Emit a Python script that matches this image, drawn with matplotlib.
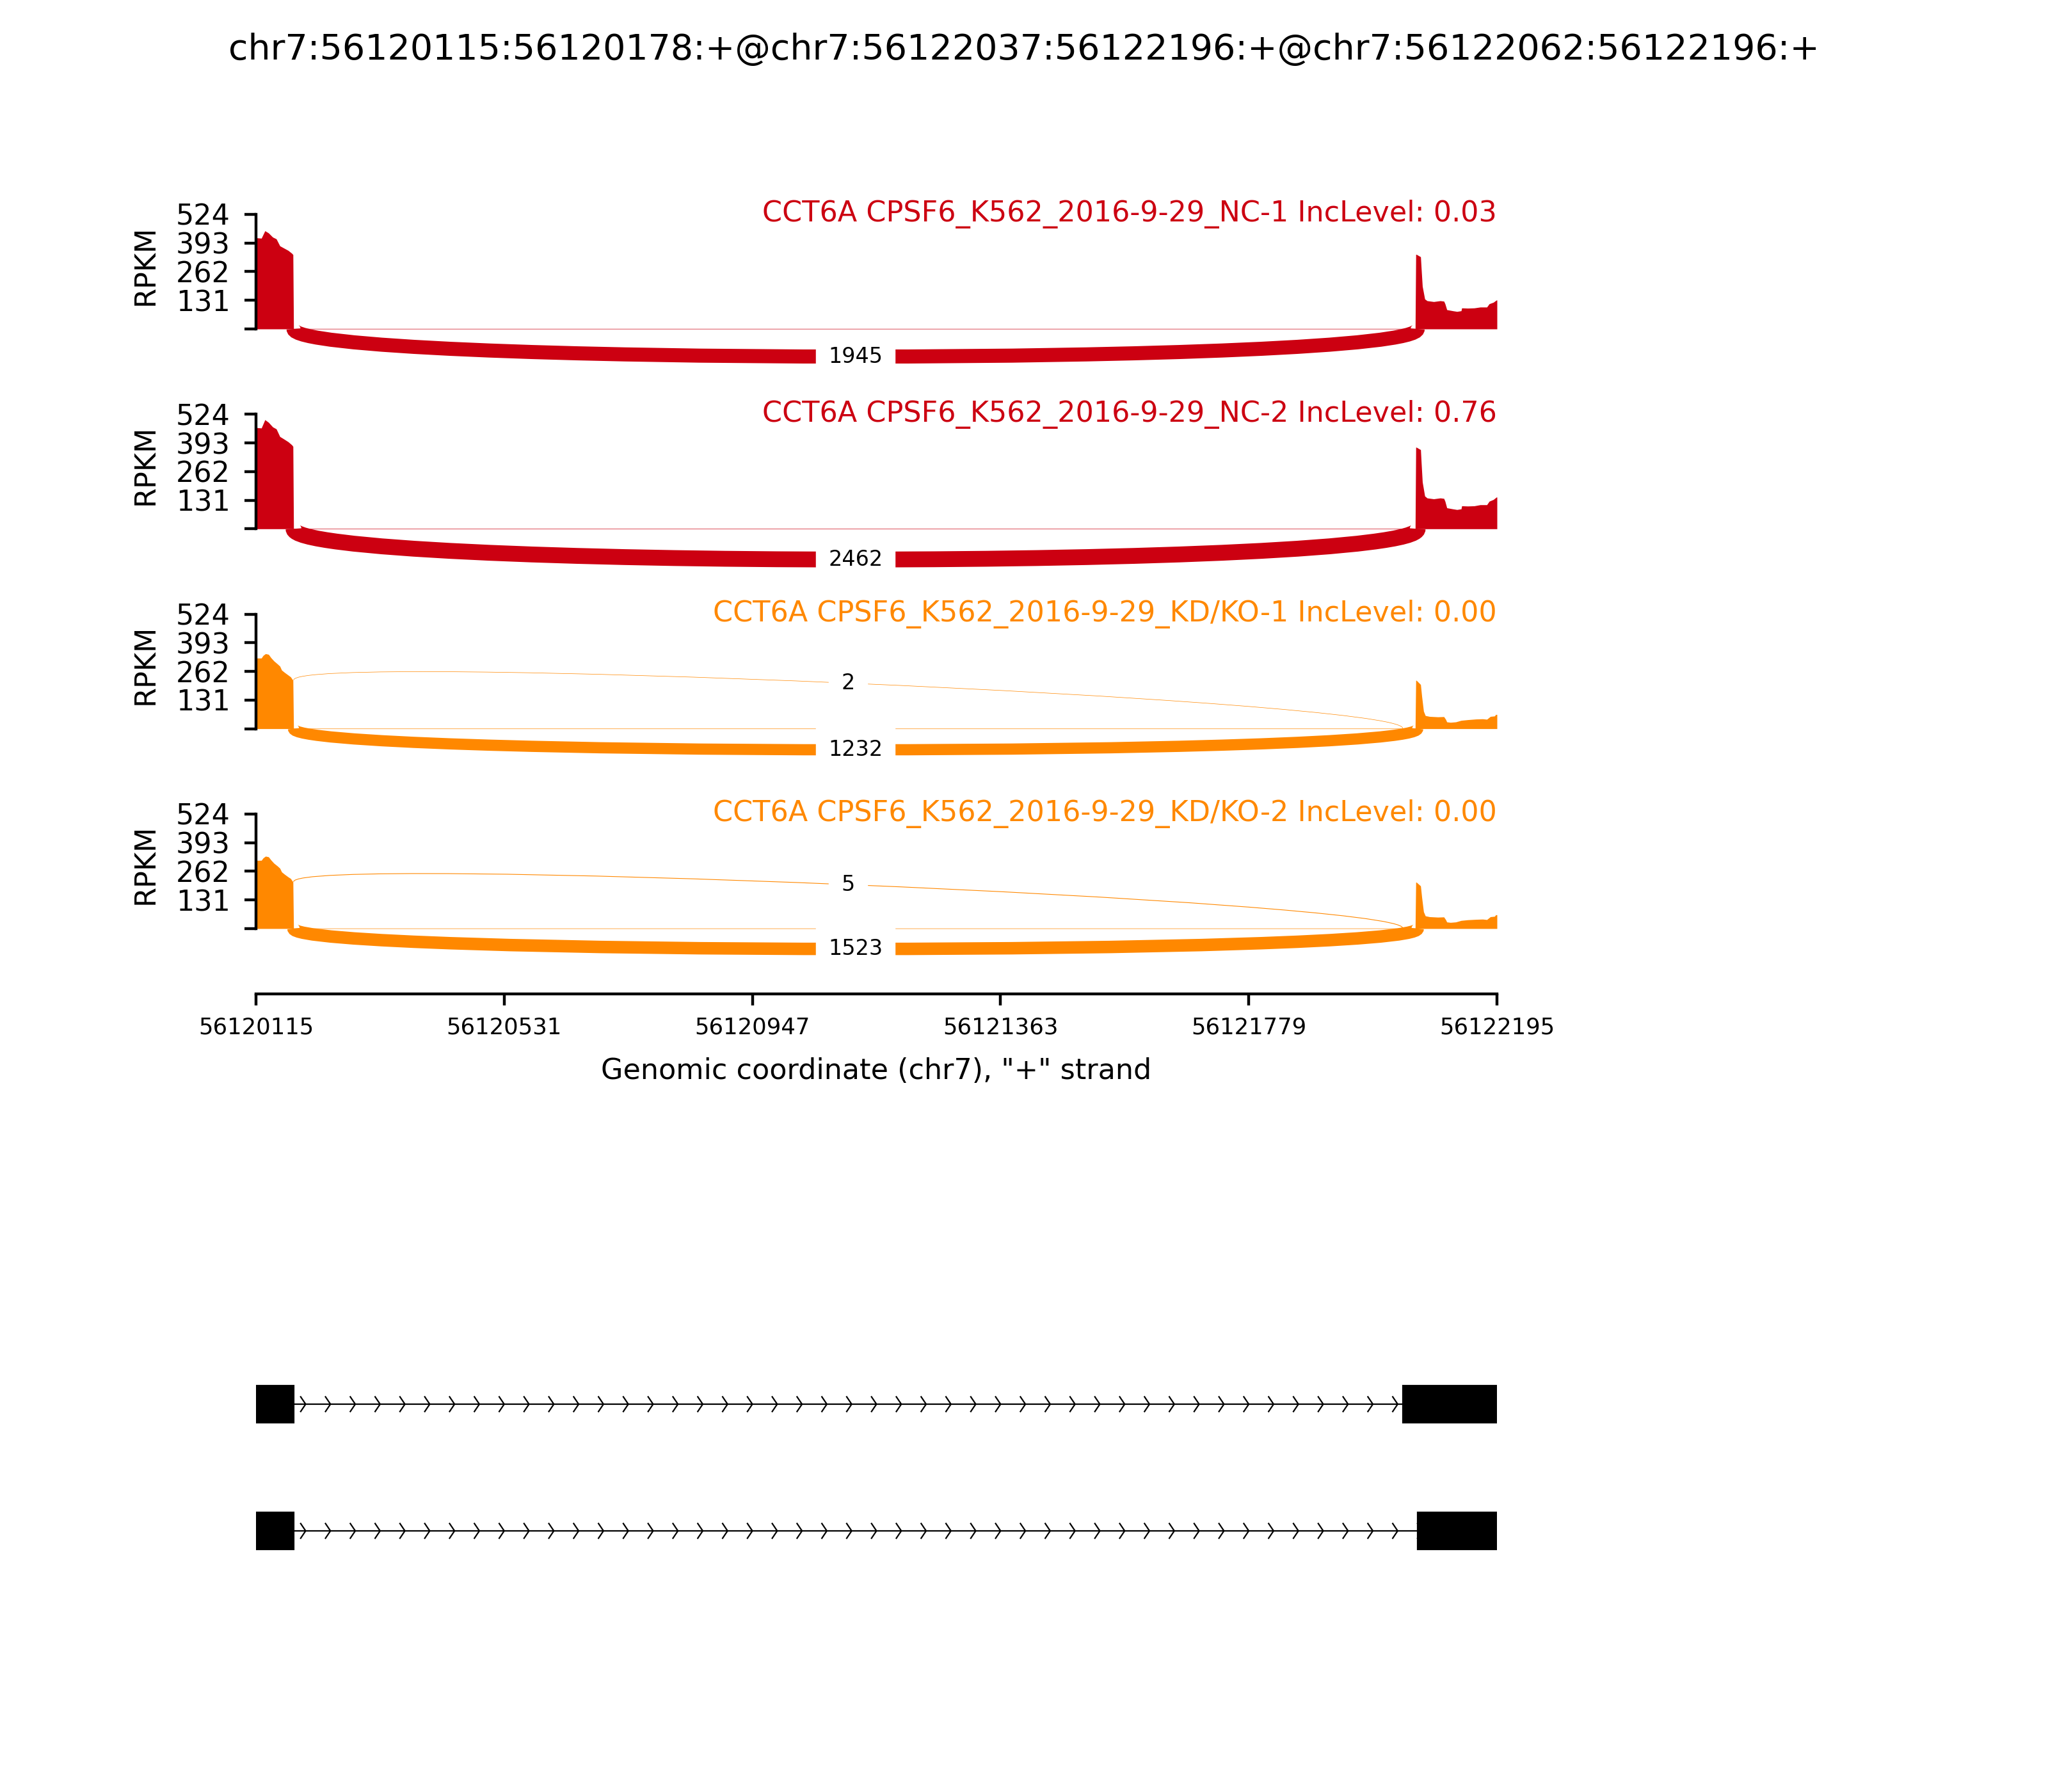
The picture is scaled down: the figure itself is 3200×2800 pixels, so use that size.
import numpy as np
import matplotlib
matplotlib.use('Agg')
import matplotlib.pyplot as plt
from matplotlib.path import Path
from matplotlib.patches import PathPatch

TITLE = 'chr7:56120115:56120178:+@chr7:56122037:56122196:+@chr7:56122062:56122196:+'
CHROM = 'chr7'
STRAND = '+'
START = 56120115
END = 56122195
GENE = 'CCT6A'

samples = ['CPSF6_K562_2016-9-29_NC-1', 'CPSF6_K562_2016-9-29_NC-2',
           'CPSF6_K562_2016-9-29_KD/KO-1', 'CPSF6_K562_2016-9-29_KD/KO-2']
inc_levels = [0.03, 0.76, 0.00, 0.00]
colors = ['#CC0011', '#CC0011', '#FF8800', '#FF8800']

# junctions (left, right) and read counts per sample
junc_long = (56120178, 56122062)
junc_short = (56120178, 56122037)
counts_long = [1945, 2462, 1232, 1523]
counts_short = [0, 0, 2, 5]

# coverage (RPKM), positions are bp offsets from START
nc1_x = [0, 9, 15, 21, 28, 34, 40, 46, 54, 60, 62, 63, 1943,
         1944, 1945, 1952, 1953, 1955, 1957, 1959, 1963, 1974, 1985, 1991, 1993, 1996,
         2006, 2013, 2020, 2021, 2031, 2042, 2052, 2063, 2067, 2074, 2079, 2080]
nc1_y = [417, 415, 449, 439, 420, 412, 380, 371, 359, 346, 340, 2, 2,
         341, 341, 330, 283, 195, 166, 137, 129, 125, 129, 127, 115, 88,
         83, 80, 83, 96, 95, 96, 100, 100, 115, 122, 132, 132]
nc2_x = nc1_x
nc2_y = [463, 461, 499, 487, 466, 457, 422, 412, 398, 384, 377, 2, 2,
         373, 373, 362, 310, 214, 182, 150, 141, 137, 141, 139, 126, 96,
         91, 88, 91, 105, 104, 105, 110, 110, 126, 134, 145, 145]
kd1_x = [0, 9, 12, 16, 21, 25, 30, 36, 40, 43, 48, 54, 58, 61, 62, 63, 1943,
         1944, 1945, 1952, 1954, 1957, 1960, 1967, 1981, 1991, 1994, 1996, 2002,
         2011, 2020, 2031, 2045, 2056, 2063, 2069, 2076, 2078, 2080]
kd1_y = [323, 323, 335, 343, 340, 325, 310, 296, 286, 268, 257, 245, 237, 225, 222, 2, 2,
         221, 221, 202, 148, 80, 60, 56, 54, 55, 43, 31, 29,
         31, 38, 41, 44, 45, 43, 56, 58, 65, 65]
kd2_x = kd1_x
kd2_y = [312, 312, 323, 331, 328, 314, 299, 286, 276, 259, 248, 236, 229, 217, 214, 2, 2,
         212, 212, 195, 143, 77, 58, 54, 52, 53, 41, 30, 28,
         30, 37, 40, 42, 43, 41, 54, 56, 63, 63]
cov_x = [nc1_x, nc2_x, kd1_x, kd2_x]
cov_y = [nc1_y, nc2_y, kd1_y, kd2_y]

YMAX = 524
YTICKS = [0, 131, 262, 393, 524]
XTICKS = [56120115, 56120531, 56120947, 56121363, 56121779, 56122195]

# isoforms
transcripts = [[(56120115, 56120178), (56122037, 56122196)],
               [(56120115, 56120178), (56122062, 56122196)]]

# layout in pixels of the 3200x2800 output
FW, FH = 3200, 2800
AXL, AXR = 400, 2339
TOP0, STEP, SPAN = 335, 312.3, 179
YBOT = -300
AXH = SPAN * (YMAX - YBOT) / YMAX


def bezier_mid(pts):
    p = np.array(pts, dtype=float)
    return 0.125 * p[0] + 0.375 * p[1] + 0.375 * p[2] + 0.125 * p[3]


def draw_arc(ax, pts, count, color):
    path = Path(pts, [Path.MOVETO, Path.CURVE4, Path.CURVE4, Path.CURVE4])
    lw = 0.1123 * np.sqrt(count)
    ax.add_patch(PathPatch(path, ec=color, fc='none', lw=lw))
    mx, my = bezier_mid(pts)
    ax.text(mx, my, str(count), fontsize=7.5, ha='center', va='center',
            backgroundcolor='w')


fig = plt.figure(figsize=(10, 8.75), dpi=320)
fig.suptitle(TITLE, fontsize=12.5, y=1 - 78 / FH, va='center')

for i in range(len(samples)):
    top = TOP0 + STEP * i
    ax = fig.add_axes([AXL / FW, 1 - (top + AXH) / FH, (AXR - AXL) / FW, AXH / FH])
    col = colors[i]
    x = START + np.array(cov_x[i])
    y = np.array(cov_y[i])
    ax.fill_between(x, y, 0, color=col, lw=0)

    h = 0.375 * y.max()
    # long junction below the axis
    s1, s2 = junc_long
    draw_arc(ax, [(s1, 0), (s1, -h), (s2, -h), (s2, 0)], counts_long[i], col)
    # short junction above the coverage
    if counts_short[i] > 0:
        s1, s2 = junc_short
        ld = np.interp(s1 - 1, x, y)
        rd = np.interp(s2, x, y)
        draw_arc(ax, [(s1, ld), (s1, ld + h), (s2, rd + h), (s2, rd)], counts_short[i], col)

    ax.text(END, YMAX, '%s %s IncLevel: %.2f' % (GENE, samples[i], inc_levels[i]),
            fontsize=10, color=col, ha='right', va='center')

    ax.set_xlim(START, END)
    ax.set_ylim(YBOT, YMAX)
    ax.spines['right'].set_visible(False)
    ax.spines['top'].set_visible(False)
    ax.spines['left'].set_bounds(0, YMAX)
    ax.spines['left'].set_linewidth(1.0)
    ax.spines['bottom'].set_linewidth(1.0)
    ax.set_yticks(YTICKS)
    ax.set_yticklabels([''] + [str(t) for t in YTICKS[1:]], fontsize=10)
    ax.tick_params(axis='y', length=4, width=1.0, pad=5)
    ax.set_ylabel('RPKM', fontsize=10)
    ax.yaxis.set_label_coords(-0.078, 0.72)
    if i == len(samples) - 1:
        ax.set_xticks(XTICKS)
        ax.set_xticklabels([str(t) for t in XTICKS], fontsize=8)
        ax.tick_params(axis='x', length=4, width=1.0, pad=4)
        ax.set_xlabel('Genomic coordinate (%s), "%s" strand' % (CHROM, STRAND),
                      fontsize=10, labelpad=6.5)
    else:
        ax.spines['bottom'].set_visible(False)
        ax.set_xticks([])

# gene structure panel
gax = fig.add_axes([AXL / FW, 1 - 2491 / FH, (AXR - AXL) / FW, 396 / FH])
ew = 0.29
narrows = 50
span = END - START
spread = 0.2 * span / narrows
for row, exons in enumerate(transcripts):
    minsx = min(e[0] for e in exons)
    maxex = max(e[1] for e in exons)
    gax.plot([minsx, maxex], [row, row], color='k', lw=0.5, zorder=1)
    for k in range(narrows):
        loc = START + k * span / narrows
        xs = [loc - spread, loc, loc - spread]
        if minsx <= xs[0] <= maxex:
            gax.plot(xs, [row - ew / 5, row, row + ew / 5], color='k', lw=0.5, zorder=1)
    for s, e in exons:
        gax.fill([s, s, e, e], [row - ew / 2, row + ew / 2, row + ew / 2, row - ew / 2],
                 color='k', lw=0.5, zorder=2)
gax.set_xlim(START, END)
gax.set_ylim(1.5, -0.5)
gax.axis('off')

fig.savefig('out.png', dpi=320)
